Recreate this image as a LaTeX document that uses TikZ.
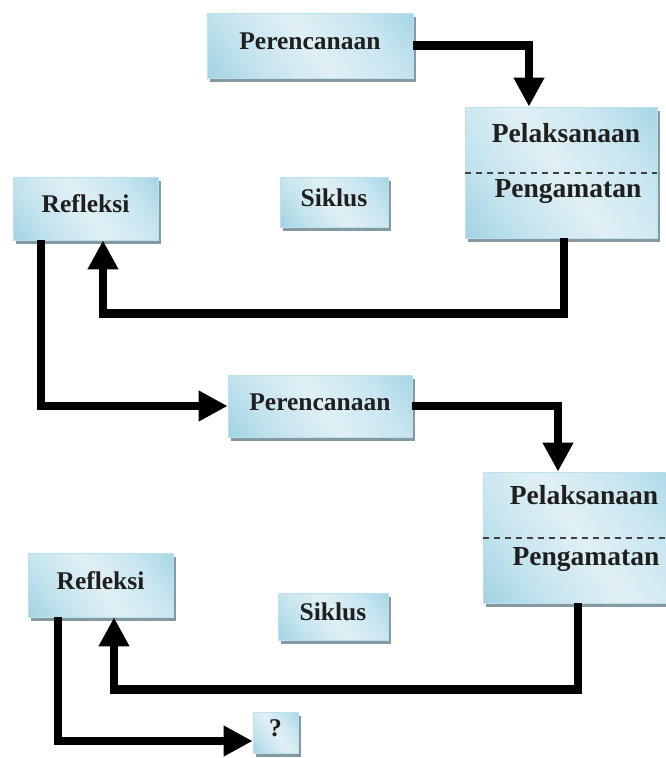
\documentclass[tikz,border=0pt]{standalone}
\usepackage{fontspec}
\setmainfont{Liberation Serif}
\usepackage{xcolor}
\usepackage{tikz}
\usetikzlibrary{arrows.meta,positioning,shadows}

\definecolor{boxedge}{rgb}{0.74,0.88,0.92}
\definecolor{boxshadow}{rgb}{0.52,0.60,0.64}
\pgfdeclarehorizontalshading{boxshade}{100bp}{rgb(0bp)=(0.50,0.76,0.84); rgb(30bp)=(0.76,0.89,0.93); rgb(50bp)=(0.88,0.94,0.96); rgb(70bp)=(0.78,0.90,0.94); rgb(100bp)=(0.52,0.77,0.85)}

\begin{document}
\begin{tikzpicture}[
    x=1pt, y=-1pt,
    box/.style={draw=boxedge, line width=0.8pt, shading=boxshade, shading angle=35,
      inner sep=0pt, text height=17pt, text depth=9pt, text=black!88,
      font=\fontsize{25.5}{30}\selectfont\bfseries,
      drop shadow={shadow xshift=3pt, shadow yshift=-4pt, fill=boxshadow, opacity=1}},
    acttext/.style={anchor=base, text=black!88, font=\fontsize{27.5}{32}\selectfont\bfseries},
    split/.style={draw=black!75, line width=2pt, dash pattern=on 6.5pt off 4.5pt},
    flow/.style={line width=8.5pt, -{Triangle[length=29pt,width=29pt]}}
  ]
  \useasboundingbox (0,0) rectangle (666,758);

  % first cycle
  \node[box, minimum width=206pt, minimum height=65pt] (plan1) at (310,45.5) {Perencanaan};
  \node[box, minimum width=192pt, minimum height=131pt] (act1) at (561,172.5) {};
  \node[acttext] (act1a) at (566,142) {Pelaksanaan};
  \node[acttext] (act1b) at (568,197) {Pengamatan};
  \draw[split] (act1.west) -- (act1.east);
  \node[box, minimum width=145pt, minimum height=63pt] (refl1) at (85.5,208.5) {Refleksi};
  \node[box, minimum width=108pt, minimum height=50pt] (cyc1) at (334,202) {Siklus};

  % second cycle
  \node[box, minimum width=184pt, minimum height=62pt] (plan2) at (320,406) {Perencanaan};
  \node[box, minimum width=197pt, minimum height=131pt] (act2) at (581.5,537.5) {};
  \node[acttext] (act2a) at (584,504) {Pelaksanaan};
  \node[acttext] (act2b) at (586,565) {Pengamatan};
  \draw[split] (act2.west) -- (act2.east);
  \node[box, minimum width=145pt, minimum height=64pt] (refl2) at (100.5,585) {Refleksi};
  \node[box, minimum width=110pt, minimum height=47pt] (cyc2) at (333,616.5) {Siklus};
  \node[box, minimum width=45pt, minimum height=41pt] (next) at (275.5,732.5) {?};

  \draw[flow] (plan1.east) -| ([xshift=-32pt]act1.north);
  \draw[flow] ([xshift=3pt]act1.south) -- ++(0,75) -| ([xshift=17.5pt]refl1.south);
  \draw[flow] ([xshift=-44.5pt]refl1.south) |- (plan2.west);
  \draw[flow] (plan2.east) -| ([xshift=-23.5pt]act2.north);
  \draw[flow] ([xshift=-3.5pt]act2.south) -- ++(0,86) -| ([xshift=13.5pt]refl2.south);
  \draw[flow] ([xshift=-42.5pt]refl2.south) |- ([yshift=-8.5pt]next.west);
\end{tikzpicture}
\end{document}
